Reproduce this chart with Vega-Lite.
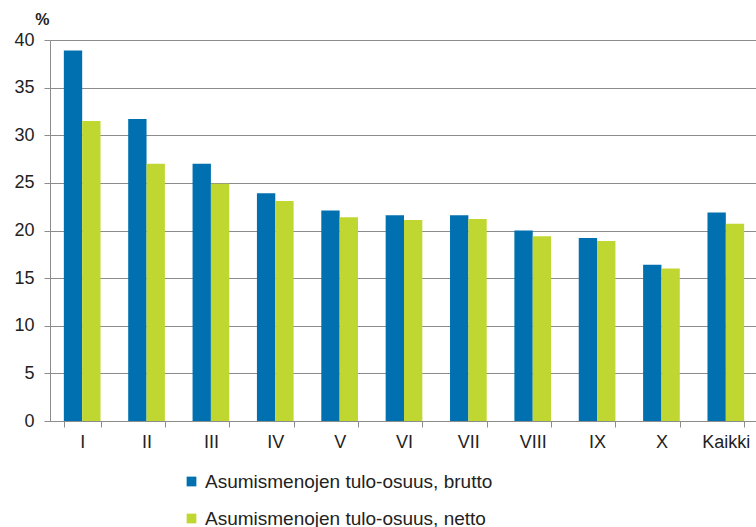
{
  "$schema": "https://vega.github.io/schema/vega-lite/v6.json",
  "autosize": "none",
  "width": 708,
  "height": 381,
  "padding": {"left": 50, "top": 40, "right": 0, "bottom": 106},
  "background": "white",
  "config": {
    "font": "Liberation Sans",
    "view": {"stroke": null},
    "axis": {"labelFont": "Liberation Sans", "labelColor": "#222", "domainColor": "#8c8c8c", "tickColor": "#8c8c8c", "gridColor": "#8c8c8c"}
  },
  "data": {
    "values": [
      {"d": "I", "s": "Asumismenojen tulo-osuus, brutto", "v": 38.9},
      {"d": "I", "s": "Asumismenojen tulo-osuus, netto", "v": 31.5},
      {"d": "II", "s": "Asumismenojen tulo-osuus, brutto", "v": 31.7},
      {"d": "II", "s": "Asumismenojen tulo-osuus, netto", "v": 27.0},
      {"d": "III", "s": "Asumismenojen tulo-osuus, brutto", "v": 27.0},
      {"d": "III", "s": "Asumismenojen tulo-osuus, netto", "v": 24.9},
      {"d": "IV", "s": "Asumismenojen tulo-osuus, brutto", "v": 23.9},
      {"d": "IV", "s": "Asumismenojen tulo-osuus, netto", "v": 23.1},
      {"d": "V", "s": "Asumismenojen tulo-osuus, brutto", "v": 22.1},
      {"d": "V", "s": "Asumismenojen tulo-osuus, netto", "v": 21.4},
      {"d": "VI", "s": "Asumismenojen tulo-osuus, brutto", "v": 21.6},
      {"d": "VI", "s": "Asumismenojen tulo-osuus, netto", "v": 21.1},
      {"d": "VII", "s": "Asumismenojen tulo-osuus, brutto", "v": 21.6},
      {"d": "VII", "s": "Asumismenojen tulo-osuus, netto", "v": 21.2},
      {"d": "VIII", "s": "Asumismenojen tulo-osuus, brutto", "v": 20.0},
      {"d": "VIII", "s": "Asumismenojen tulo-osuus, netto", "v": 19.4},
      {"d": "IX", "s": "Asumismenojen tulo-osuus, brutto", "v": 19.2},
      {"d": "IX", "s": "Asumismenojen tulo-osuus, netto", "v": 18.9},
      {"d": "X", "s": "Asumismenojen tulo-osuus, brutto", "v": 16.4},
      {"d": "X", "s": "Asumismenojen tulo-osuus, netto", "v": 16.0},
      {"d": "Kaikki", "s": "Asumismenojen tulo-osuus, brutto", "v": 21.9},
      {"d": "Kaikki", "s": "Asumismenojen tulo-osuus, netto", "v": 20.7}
    ]
  },
  "mark": {"type": "bar"},
  "encoding": {
    "x": {
      "field": "d", "type": "nominal", "sort": null,
      "scale": {"paddingInner": 0.43, "paddingOuter": 0.215},
      "axis": {"title": null, "labelAngle": 0, "labelFontSize": 18, "tickBand": "extent", "tickSize": 6, "labelPadding": 6, "grid": false}
    },
    "xOffset": {"field": "s", "type": "nominal", "scale": {"paddingInner": 0}},
    "y": {
      "field": "v", "type": "quantitative",
      "scale": {"domain": [0, 40]},
      "axis": {"title": "%", "titleAngle": 0, "titleAnchor": "end", "titleAlign": "right", "titleBaseline": "bottom", "titleX": -1, "titleY": -13, "titleFontSize": 16, "titleFontWeight": "bold", "titleColor": "#222", "values": [0,5,10,15,20,25,30,35,40], "labelFontSize": 18, "tickSize": 6, "labelPadding": 10, "grid": true}
    },
    "color": {
      "field": "s", "type": "nominal",
      "scale": {"range": ["#0070b0", "#c0d732"]},
      "legend": {"title": null, "orient": "none", "legendX": 132, "legendY": 432, "direction": "vertical", "symbolType": "square", "symbolSize": 95, "labelFontSize": 19, "labelLimit": 0, "labelOffset": 4, "labelColor": "#222", "labelFont": "Liberation Sans", "rowPadding": 17, "symbolStrokeWidth": 0}
    }
  }
}
